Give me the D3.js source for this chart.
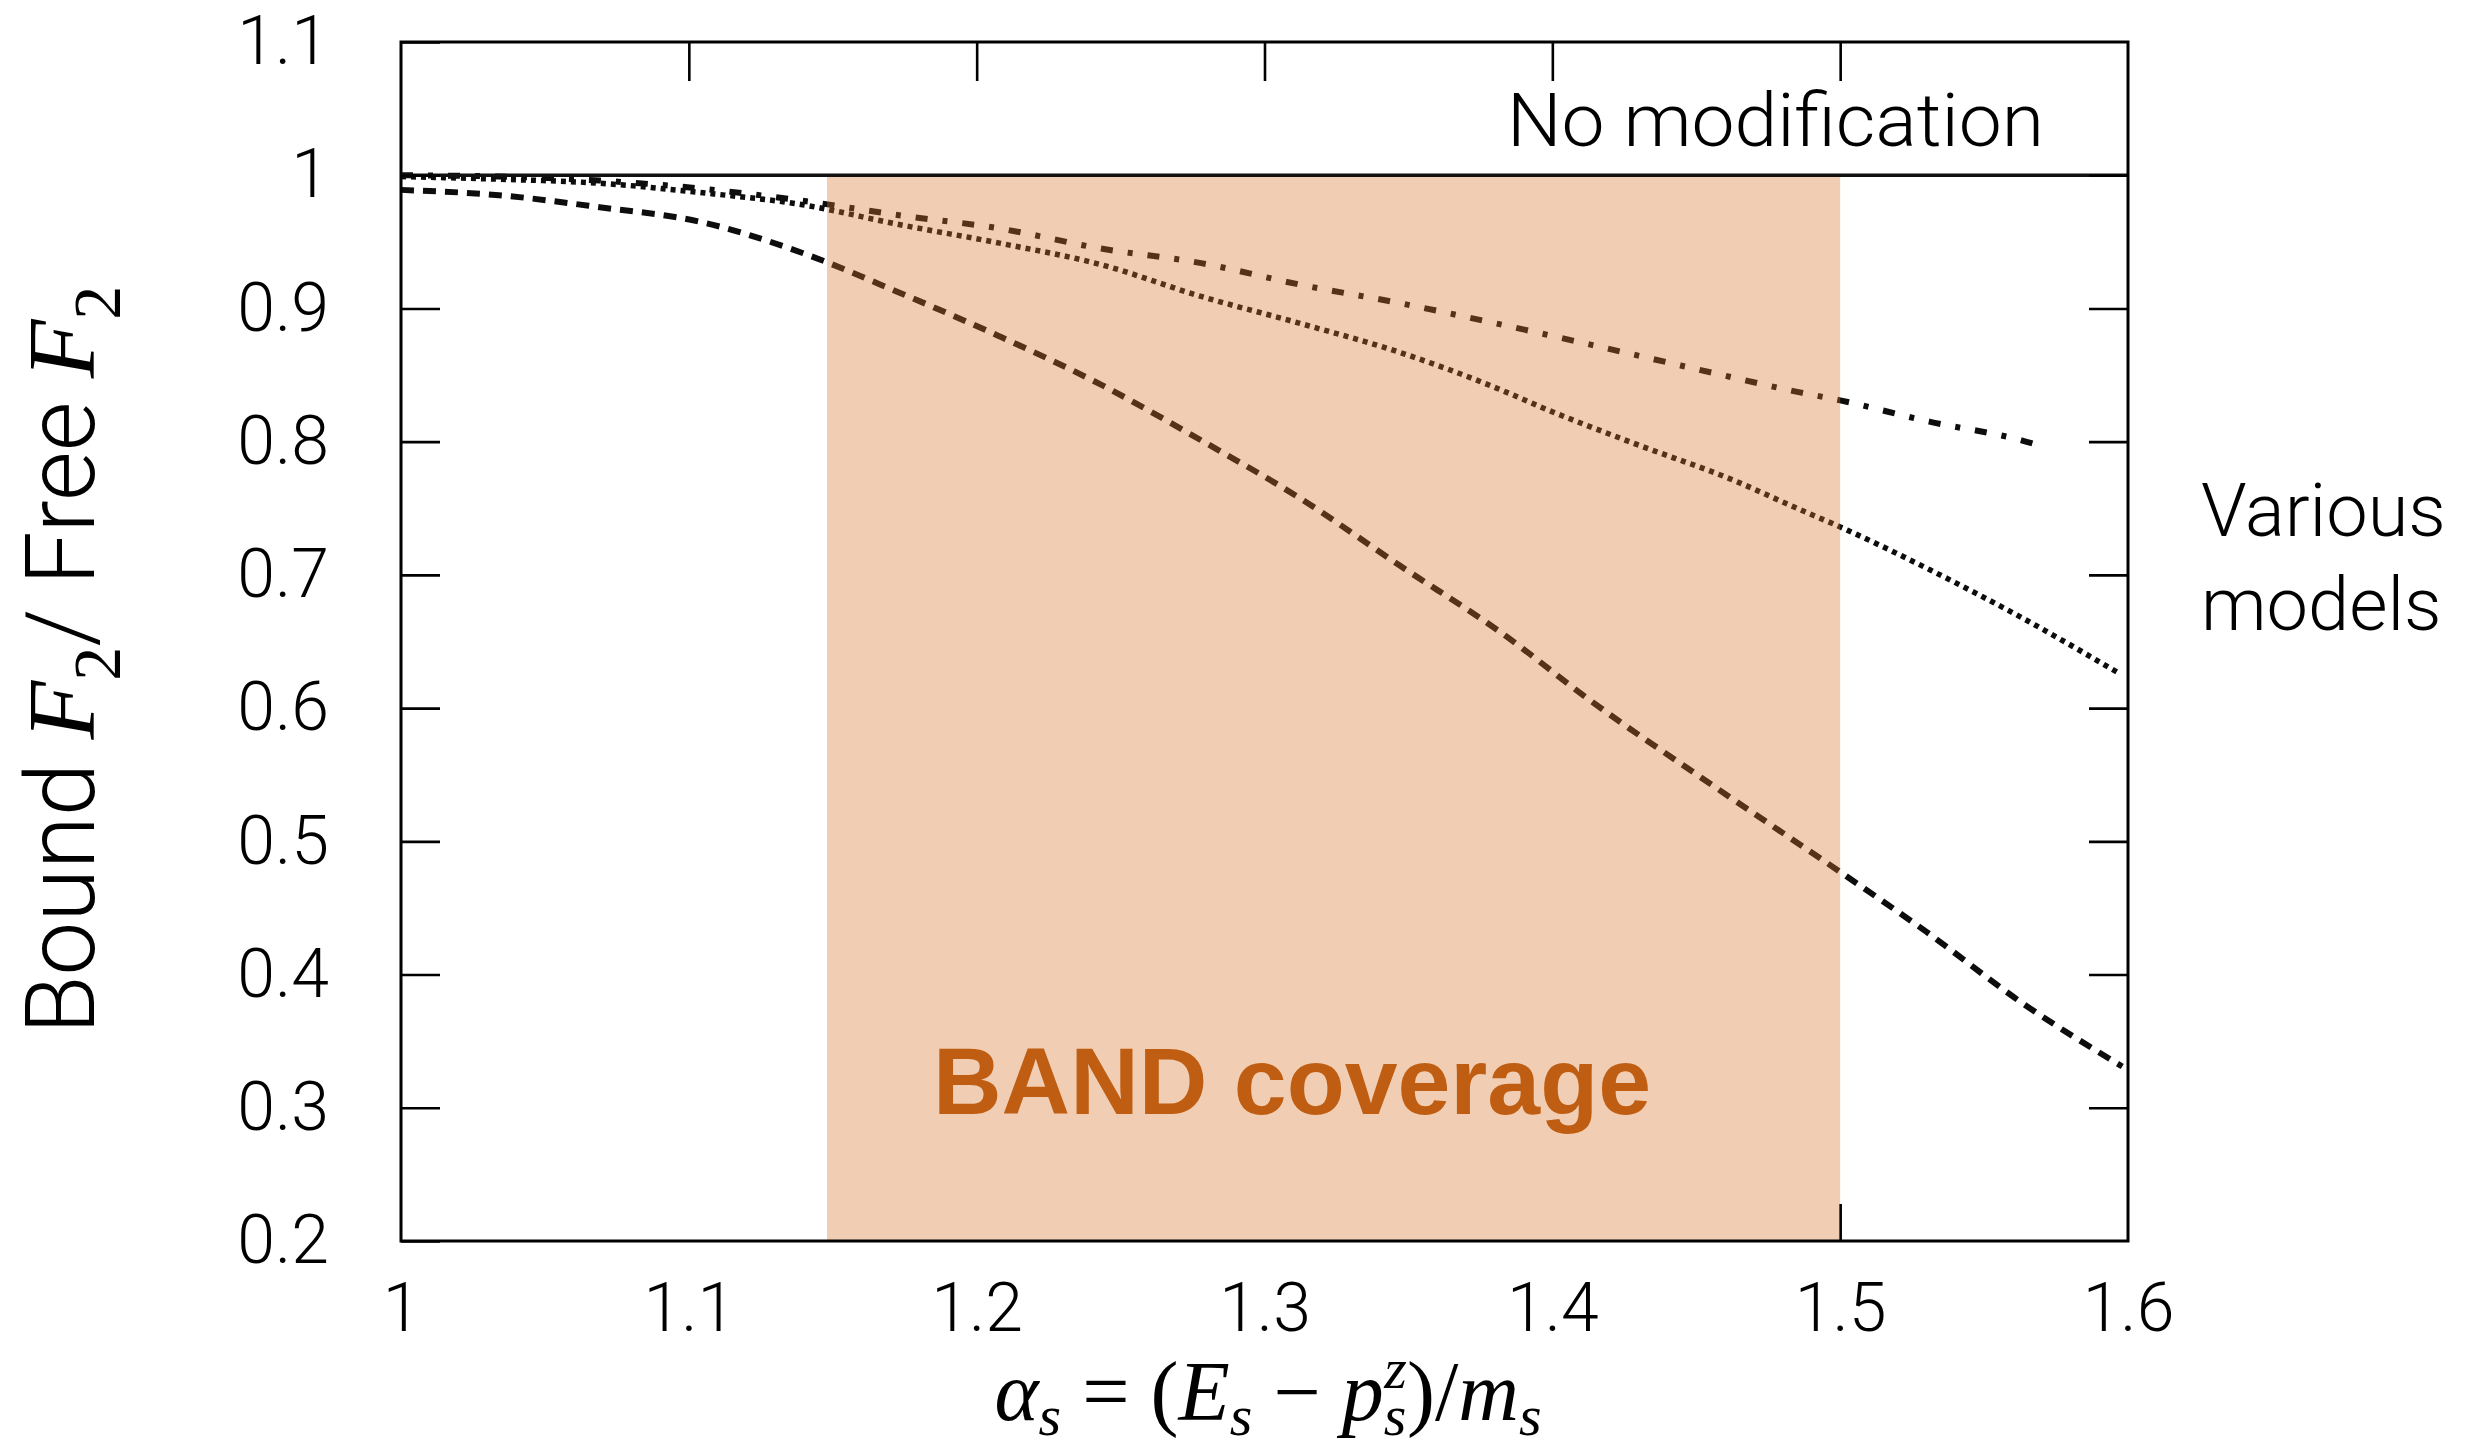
<!DOCTYPE html>
<html>
<head>
<meta charset="utf-8">
<script src="https://cdn.jsdelivr.net/npm/d3@7"></script>
<style>
  html, body { margin: 0; padding: 0; background: #ffffff; }
  svg { display: block; }
</style>
</head>
<body>
<svg id="chart" width="2488" height="1451"></svg>
<script>
// ---------- data ----------
const xTicks = [1, 1.1, 1.2, 1.3, 1.4, 1.5, 1.6];
const xTickLabels = ["1", "1.1", "1.2", "1.3", "1.4", "1.5", "1.6"];
const yTicks = [0.2, 0.3, 0.4, 0.5, 0.6, 0.7, 0.8, 0.9, 1.0, 1.1];
const yTickLabels = ["0.2", "0.3", "0.4", "0.5", "0.6", "0.7", "0.8", "0.9", "1", "1.1"];

// dashed model (lowest curve)
const dashedX = [1.000, 1.034, 1.069, 1.104, 1.139, 1.173, 1.208, 1.243, 1.278, 1.312, 1.347, 1.382, 1.413, 1.455, 1.500, 1.530, 1.563, 1.598];
const dashedY = [0.989, 0.985, 0.976, 0.965, 0.942, 0.912, 0.879, 0.843, 0.801, 0.758, 0.707, 0.657, 0.606, 0.543, 0.477, 0.432, 0.379, 0.331];

// dotted model (middle curve)
const dottedX = [1.000, 1.034, 1.069, 1.104, 1.139, 1.173, 1.208, 1.243, 1.278, 1.312, 1.347, 1.382, 1.396, 1.428, 1.463, 1.486, 1.500, 1.531, 1.563, 1.597];
const dottedY = [0.999, 0.997, 0.994, 0.987, 0.978, 0.963, 0.949, 0.933, 0.909, 0.889, 0.867, 0.839, 0.826, 0.799, 0.771, 0.749, 0.736, 0.704, 0.668, 0.626];

// dash-dot model (upper curve)
const dashDotX = [1.000, 1.034, 1.069, 1.104, 1.139, 1.173, 1.208, 1.243, 1.278, 1.312, 1.347, 1.382, 1.417, 1.451, 1.486, 1.500, 1.531, 1.563, 1.571];
const dashDotY = [1.000, 0.999, 0.996, 0.990, 0.981, 0.970, 0.960, 0.945, 0.934, 0.918, 0.904, 0.888, 0.871, 0.854, 0.837, 0.831, 0.815, 0.801, 0.796];

// "No modification" reference line
const noModX = [1.0, 1.6];
const noModY = [1.0, 1.0];

// BAND coverage region
const bandX = [1.148, 1.5];
const bandY = [0.2, 1.0];

// ---------- layout ----------
const svg = d3.select("#chart");
const W = 2488, H = 1451;
svg.append("rect").attr("width", W).attr("height", H).attr("fill", "#ffffff");

const x = d3.scaleLinear().domain([1, 1.6]).range([401, 2128]);
const y = d3.scaleLinear().domain([0.2, 1.1]).range([1241, 42]);

const sans = "'Roboto', 'Liberation Sans', sans-serif";
const serif = "'Liberation Serif', 'DejaVu Serif', serif";

const zip = (a, b) => a.map((v, i) => [v, b[i]]);
const line = d3.line().x(d => x(d[0])).y(d => y(d[1])).curve(d3.curveMonotoneX);

const plot = svg.append("g");

// curves
plot.append("path").datum(zip(dashedX, dashedY))
  .attr("d", line).attr("fill", "none").attr("stroke", "#0d0d0d")
  .attr("stroke-width", 6).attr("stroke-dasharray", "13,9");
plot.append("path").datum(zip(dottedX, dottedY))
  .attr("d", line).attr("fill", "none").attr("stroke", "#0d0d0d")
  .attr("stroke-width", 5.5).attr("stroke-dasharray", "5,5");
plot.append("path").datum(zip(dashDotX, dashDotY))
  .attr("d", line).attr("fill", "none").attr("stroke", "#0d0d0d")
  .attr("stroke-width", 6).attr("stroke-dasharray", "12,15,5,15");

// band overlay (translucent, tints the curves brown)
plot.append("rect")
  .attr("x", x(bandX[0])).attr("y", y(bandY[1]))
  .attr("width", x(bandX[1]) - x(bandX[0]))
  .attr("height", y(bandY[0]) - y(bandY[1]))
  .attr("fill", "rgb(215,120,45)").attr("fill-opacity", 0.36);

// no modification line
plot.append("path").datum(zip(noModX, noModY))
  .attr("d", d3.line().x(d => x(d[0])).y(d => y(d[1])))
  .attr("stroke", "#111").attr("stroke-width", 3.5).attr("fill", "none");

// ---------- axes ----------
const tickLen = 39;
const styleAxis = g => {
  g.select(".domain").remove();
  g.selectAll(".tick line").attr("stroke", "#000").attr("stroke-width", 2.6);
  g.selectAll(".tick text").attr("fill", "#000").attr("font-family", sans)
    .attr("font-weight", 300).attr("font-size", 68);
};

svg.append("g").attr("transform", `translate(${x(1)},0)`)
  .call(d3.axisLeft(y).tickValues(yTicks).tickSizeInner(-tickLen).tickSizeOuter(0)
    .tickPadding(72).tickFormat((d, i) => yTickLabels[i]))
  .call(styleAxis);

svg.append("g").attr("transform", `translate(${x(1.6)},0)`)
  .call(d3.axisRight(y).tickValues(yTicks.slice(1, -1)).tickSizeInner(-tickLen).tickSizeOuter(0).tickFormat(""))
  .call(styleAxis);

svg.append("g").attr("transform", `translate(0,${y(1.1)})`)
  .call(d3.axisTop(x).tickValues(xTicks.slice(1, -1)).tickSizeInner(-tickLen).tickSizeOuter(0).tickFormat(""))
  .call(styleAxis);

svg.append("g").attr("transform", `translate(0,${y(0.2)})`)
  .call(d3.axisBottom(x).tickValues(xTicks).tickSizeInner(0).tickSizeOuter(0)
    .tickPadding(42).tickFormat((d, i) => xTickLabels[i]))
  .call(styleAxis);

svg.append("g").attr("transform", `translate(0,${y(0.2)})`)
  .call(d3.axisBottom(x).tickValues([1.5]).tickSizeInner(-37).tickSizeOuter(0).tickFormat(""))
  .call(styleAxis);

// frame
svg.append("rect")
  .attr("x", x(1)).attr("y", y(1.1))
  .attr("width", x(1.6) - x(1)).attr("height", y(0.2) - y(1.1))
  .attr("fill", "none").attr("stroke", "#000").attr("stroke-width", 3);

// ---------- texts ----------
svg.append("text")
  .attr("x", 1507).attr("y", 146)
  .attr("font-family", sans).attr("font-weight", 300).attr("font-size", 74)
  .attr("textLength", 537).attr("lengthAdjust", "spacingAndGlyphs")
  .attr("fill", "#000").text("No modification");

svg.append("text")
  .attr("x", 2201).attr("y", 536)
  .attr("font-family", sans).attr("font-weight", 300).attr("font-size", 74)
  .attr("fill", "#000").text("Various");
svg.append("text")
  .attr("x", 2201).attr("y", 630)
  .attr("font-family", sans).attr("font-weight", 300).attr("font-size", 74)
  .attr("fill", "#000").text("models");

svg.append("text")
  .attr("x", 933).attr("y", 1114)
  .attr("font-family", "'Liberation Sans', Arial, sans-serif").attr("font-weight", 700)
  .attr("font-size", 95).attr("fill", "#bf5e12").text("BAND coverage");

// y-axis title
const yt = svg.append("text")
  .attr("transform", "translate(94,660) rotate(-90)")
  .attr("text-anchor", "middle")
  .attr("font-family", sans).attr("font-weight", 300).attr("font-size", 96).attr("fill", "#000");
yt.append("tspan").text("Bound ");
yt.append("tspan").attr("font-family", serif).attr("font-style", "italic").text("F");
yt.append("tspan").attr("font-family", serif).attr("font-size", 68).attr("dy", 26).text("2");
yt.append("tspan").attr("dy", -26).text("/ Free ");
yt.append("tspan").attr("font-family", serif).attr("font-style", "italic").text("F");
yt.append("tspan").attr("font-family", serif).attr("font-size", 68).attr("dy", 26).text("2");

// x-axis title
const xt = svg.append("text")
  .attr("x", 1268).attr("y", 1420)
  .attr("text-anchor", "middle")
  .attr("font-family", serif).attr("font-size", 84).attr("fill", "#000");
xt.append("tspan").attr("font-style", "italic").text("α");
xt.append("tspan").attr("font-style", "italic").attr("font-size", 58).attr("dy", 15).text("s");
xt.append("tspan").attr("dy", -15).text(" = (");
xt.append("tspan").attr("font-style", "italic").text("E");
xt.append("tspan").attr("font-style", "italic").attr("font-size", 58).attr("dy", 15).text("s");
xt.append("tspan").attr("dy", -15).text(" − ");
xt.append("tspan").attr("font-style", "italic").text("p");
xt.append("tspan").attr("font-style", "italic").attr("font-size", 58).attr("dy", 15).text("s");
xt.append("tspan").attr("font-style", "italic").attr("font-size", 58).attr("dx", -22).attr("dy", -47).text("z");
xt.append("tspan").attr("dy", 32).text(")/");
xt.append("tspan").attr("font-style", "italic").text("m");
xt.append("tspan").attr("font-style", "italic").attr("font-size", 58).attr("dy", 15).text("s");
</script>
</body>
</html>
